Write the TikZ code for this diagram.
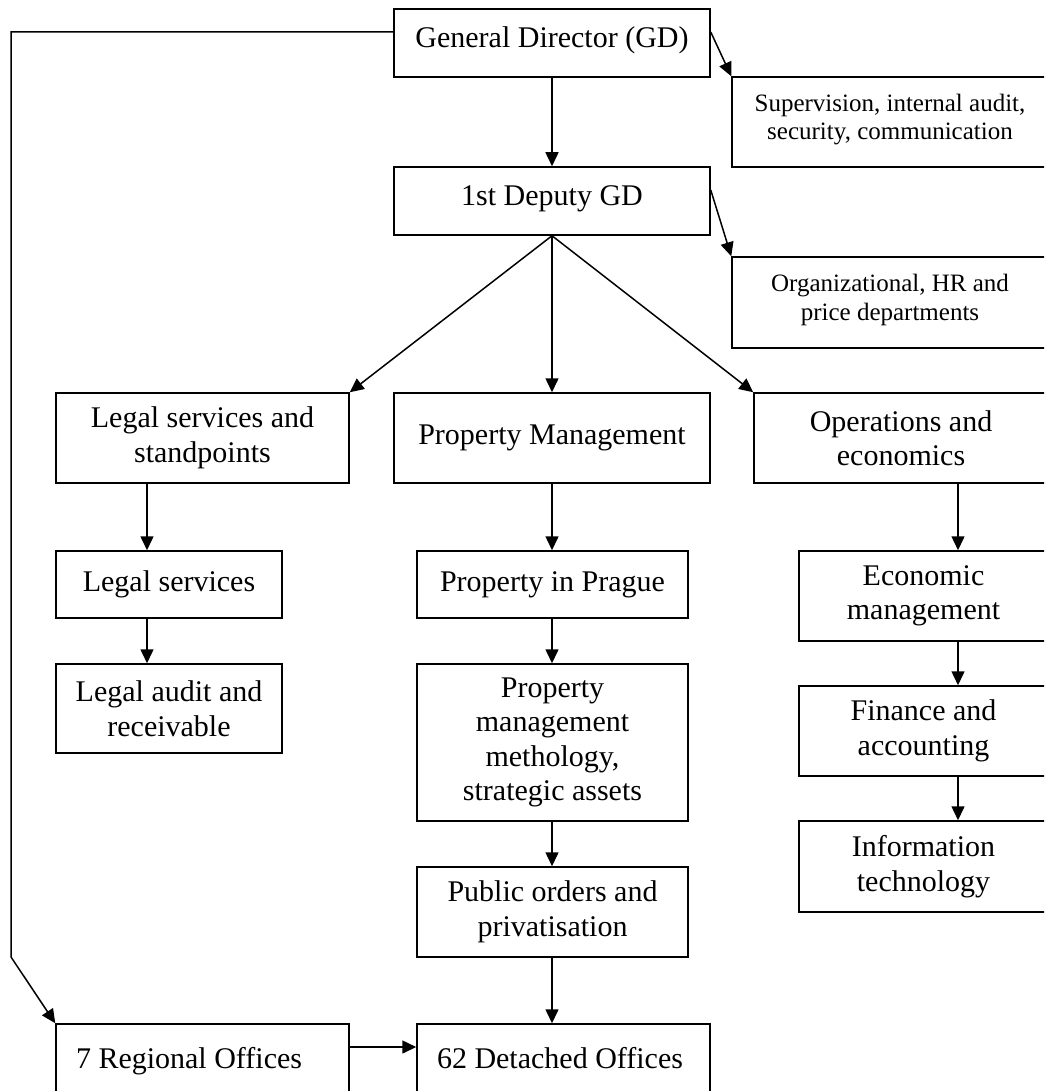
\documentclass[tikz,border=0pt]{standalone}
\usepackage{fontspec}
\setmainfont{Liberation Serif}
\usetikzlibrary{arrows.meta}

% font sizes used in the chart
\newcommand\mainsz{\fontsize{30}{34.5}\selectfont}
\newcommand\smallsz{\fontsize{25}{28.5}\selectfont}
% text set slightly above the middle of its box
\newcommand\lifted[1]{\raisebox{2pt}[\height][\depth]{\begin{tabular}{@{}c@{}}#1\end{tabular}}}

\begin{document}
\begin{tikzpicture}[x=1pt,y=-1pt,
  box/.style={draw, line width=1.5pt, inner sep=0pt, align=center, font=\mainsz},
  smallbox/.style={box, font=\smallsz},
  leftbox/.style={box, align=flush left, inner xsep=20pt, text width=253pt,
    text height=24pt, text depth=4pt, minimum height=68pt},
  arr/.style={line width=1.5pt, -{Triangle[length=14pt,width=13pt]}}]

\useasboundingbox (0,0) rectangle (1044,1091);
\clip (0,0) rectangle (1044,1091);

% top management
\node[box, minimum width=316pt, minimum height=68pt] (gd) at (552,43) {\lifted{General Director (GD)}};
\node[smallbox, minimum width=316pt, minimum height=90pt] (sup) at (890,122) {\lifted{Supervision, internal audit,\\ security, communication}};
\node[box, minimum width=316pt, minimum height=68pt] (dep) at (552,201) {\lifted{1st Deputy GD}};
\node[smallbox, minimum width=316pt, minimum height=91pt] (org) at (890,302.5) {\lifted{Organizational, HR and\\ price departments}};

% divisions
\node[box, minimum width=293pt, minimum height=90pt] (legal) at (202.5,438) {Legal services and\\ standpoints};
\node[box, minimum width=316pt, minimum height=90pt] (prop) at (552,438) {Property Management};
\node[box, minimum width=294pt, minimum height=90pt] (ops) at (901,438) {Operations and\\ economics};

% legal column
\node[box, minimum width=226pt, minimum height=67pt] (legsv) at (169,584.5) {Legal services};
\node[box, minimum width=226pt, minimum height=89pt] (legaud) at (169,708.5) {Legal audit and\\ receivable};

% property column
\node[box, minimum width=271pt, minimum height=67pt] (prague) at (552.5,584.5) {Property in Prague};
\node[box, minimum width=271pt, minimum height=157pt] (meth) at (552.5,742.5) {Property\\ management\\ methology,\\ strategic assets};
\node[box, minimum width=271pt, minimum height=90pt] (pub) at (552.5,912) {Public orders and\\ privatisation};

% economics column
\node[box, minimum width=249pt, minimum height=90pt] (econ) at (923.5,596) {Economic\\ management};
\node[box, minimum width=249pt, minimum height=90pt] (fin) at (923.5,731) {Finance and\\ accounting};
\node[box, minimum width=249pt, minimum height=91pt] (it) at (923.5,866.5) {Information\\ technology};

% offices
\node[leftbox, minimum width=293pt] (reg) at (202.5,1058) {7 Regional Offices};
\node[leftbox, minimum width=293pt] (det) at (563.5,1058) {62 Detached Offices};

% column lines
\coordinate (lcol) at (147,0);
\coordinate (mcol) at (552,0);
\coordinate (rcol) at (958,0);
\coordinate (lbend) at (11,957);

% connectors
\draw[arr] (gd.south) -- (dep.north);
\draw[arr] ([yshift=11pt]gd.east) -- (sup.north west);
\draw[arr] ([yshift=11pt]dep.east) -- (org.north west);
\draw[arr] ([yshift=11pt]gd.west) -| (lbend) -- (reg.north west);

\draw[arr] (dep.south) -- (legal.north east);
\draw[arr] (dep.south) -- (prop.north);
\draw[arr] (dep.south) -- (ops.north west);

\draw[arr] (legal.south -| lcol) -- (legsv.north -| lcol);
\draw[arr] (legsv.south -| lcol) -- (legaud.north -| lcol);

\draw[arr] (prop.south -| mcol) -- (prague.north -| mcol);
\draw[arr] (prague.south -| mcol) -- (meth.north -| mcol);
\draw[arr] (meth.south -| mcol) -- (pub.north -| mcol);
\draw[arr] (pub.south -| mcol) -- (det.north -| mcol);

\draw[arr] (ops.south -| rcol) -- (econ.north -| rcol);
\draw[arr] (econ.south -| rcol) -- (fin.north -| rcol);
\draw[arr] (fin.south -| rcol) -- (it.north -| rcol);

\draw[arr] ([yshift=11pt]reg.east) -- ([yshift=11pt]reg.east -| det.west);
\end{tikzpicture}
\end{document}
